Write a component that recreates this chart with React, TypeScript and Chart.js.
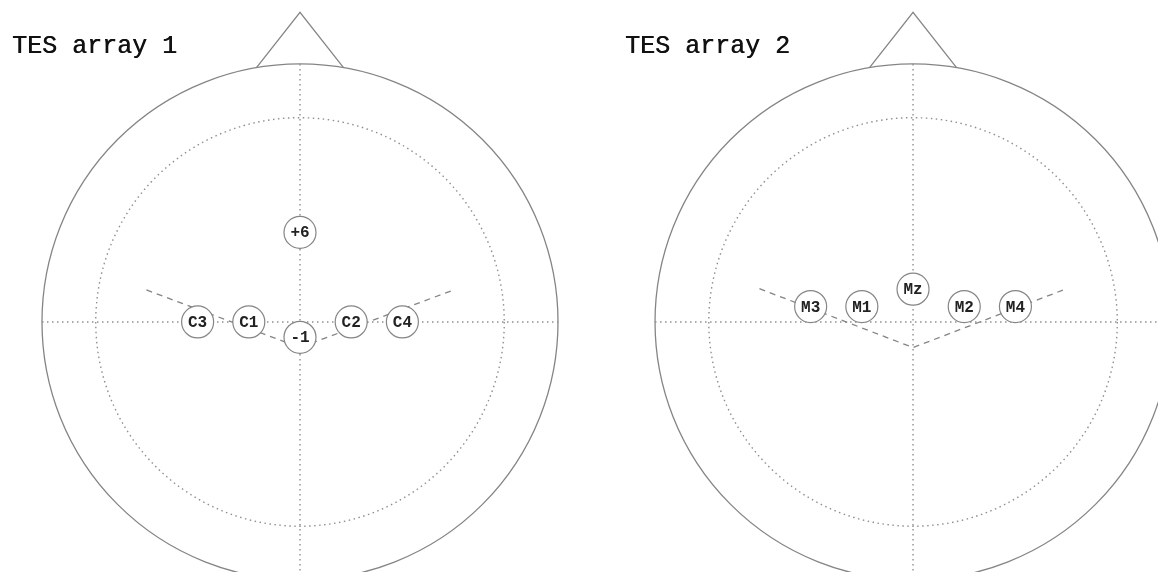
import React, { useEffect, useRef } from "react";
import { Chart, registerables } from "chart.js";

Chart.register(...registerables);

// ---- data (head units: head radius ≈ 10) ----
const headTitles = ["TES array 1", "TES array 2"];
const headCentresX = [0, 23.95];
const headRadius = 10.08;
const innerRadius = 7.98;

const noseX = [-1.7, 0, 1.7];
const noseY = [9.94, 12.1, 9.94];

const leftLabels = ["+6", "C3", "C1", "-1", "C2", "C4"];
const leftX = [0, -4, -2, 0, 2, 4];
const leftY = [3.5, 0, 0, -0.6, 0, 0];
const leftVX = [-6, 0, 6];
const leftVY = [1.25, -1.0, 1.25];

const rightLabels = ["M3", "M1", "Mz", "M2", "M4"];
const rightX = [-4, -2, 0, 2, 4];
const rightY = [0.6, 0.6, 1.28, 0.6, 0.6];
const rightVX = [-6, 0, 6];
const rightVY = [1.3, -1.0, 1.3];

const titleX = -11.25;
const titleY = 10.5;

const X_MIN = -11.72;
const X_MAX = 33.52;
const Y_MIN = -9.77;
const Y_MAX = 12.58;

const LINE = "#858585";
const DOT = "#8f8f8f";
const TEXT = "#222222";

const pts = (xs: number[], ys: number[], dx: number) =>
  xs.map((x, i) => ({ x: x + dx, y: ys[i] }));

export default function App() {
  const ref = useRef<HTMLCanvasElement | null>(null);

  useEffect(() => {
    if (!ref.current) return;

    const headPlugin = {
      id: "heads",
      beforeDatasetsDraw(chart: any) {
        const ctx = chart.ctx;
        const xs = chart.scales.x;
        const ys = chart.scales.y;
        const unit = xs.getPixelForValue(1) - xs.getPixelForValue(0);
        ctx.save();
        headCentresX.forEach((cx) => {
          const px = xs.getPixelForValue(cx);
          const py = ys.getPixelForValue(0);
          // outer head
          ctx.setLineDash([]);
          ctx.strokeStyle = LINE;
          ctx.lineWidth = 1.3;
          ctx.beginPath();
          ctx.arc(px, py, headRadius * unit, 0, Math.PI * 2);
          ctx.stroke();
          // inner dotted circle + cross
          ctx.setLineDash([1.5, 3.5]);
          ctx.strokeStyle = DOT;
          ctx.lineWidth = 1.4;
          ctx.beginPath();
          ctx.arc(px, py, innerRadius * unit, 0, Math.PI * 2);
          ctx.stroke();
          ctx.beginPath();
          ctx.moveTo(xs.getPixelForValue(cx - headRadius), py);
          ctx.lineTo(xs.getPixelForValue(cx + headRadius), py);
          ctx.moveTo(px, ys.getPixelForValue(headRadius));
          ctx.lineTo(px, ys.getPixelForValue(-headRadius));
          ctx.stroke();
        });
        ctx.restore();
      },
      afterDatasetsDraw(chart: any) {
        const ctx = chart.ctx;
        const xs = chart.scales.x;
        const ys = chart.scales.y;
        ctx.save();
        ctx.fillStyle = TEXT;
        ctx.textAlign = "center";
        ctx.textBaseline = "middle";
        ctx.font = "bold 16px 'Liberation Mono', monospace";
        chart.data.datasets.forEach((ds: any, i: number) => {
          if (!ds.electrodeLabels) return;
          const meta = chart.getDatasetMeta(i);
          meta.data.forEach((el: any, j: number) => {
            ctx.fillText(ds.electrodeLabels[j], el.x, el.y + 1);
          });
        });
        ctx.textAlign = "left";
        ctx.textBaseline = "alphabetic";
        ctx.fillStyle = "#111111";
        ctx.font = "25px 'Liberation Mono', monospace";
        headCentresX.forEach((cx, k) => {
          const tx = xs.getPixelForValue(cx + titleX);
          const ty = ys.getPixelForValue(titleY);
          ctx.fillText(headTitles[k], tx, ty);
          ctx.fillText(headTitles[k], tx + 0.5, ty);
        });
        ctx.restore();
      },
    };

    const lineDs = (data: any[], dashed: boolean) => ({
      data,
      showLine: true,
      borderColor: LINE,
      borderWidth: 1.3,
      borderDash: dashed ? [6, 5] : [],
      pointRadius: 0,
      fill: false,
      tension: 0,
      order: 2,
    });

    const electrodeDs = (data: any[], labels: string[]) => ({
      data,
      electrodeLabels: labels,
      showLine: false,
      pointRadius: 16,
      pointHoverRadius: 16,
      pointBackgroundColor: "#ffffff",
      pointBorderColor: LINE,
      pointBorderWidth: 1.2,
      order: 0,
    });

    const chart = new Chart(ref.current, {
      type: "scatter",
      data: {
        datasets: [
          lineDs(pts(noseX, noseY, headCentresX[0]), false),
          lineDs(pts(noseX, noseY, headCentresX[1]), false),
          lineDs(pts(leftVX, leftVY, headCentresX[0]), true),
          lineDs(pts(rightVX, rightVY, headCentresX[1]), true),
          electrodeDs(pts(leftX, leftY, headCentresX[0]), leftLabels),
          electrodeDs(pts(rightX, rightY, headCentresX[1]), rightLabels),
        ] as any,
      },
      options: {
        responsive: false,
        maintainAspectRatio: false,
        animation: false,
        layout: { padding: 0, autoPadding: false },
        plugins: {
          legend: { display: false },
          tooltip: { enabled: false },
        },
        events: [],
        scales: {
          x: { type: "linear", display: false, min: X_MIN, max: X_MAX },
          y: { type: "linear", display: false, min: Y_MIN, max: Y_MAX },
        },
      },
      plugins: [headPlugin],
    });

    return () => chart.destroy();
  }, []);

  return (
    <div
      style={{
        position: "absolute",
        left: 0,
        top: 0,
        width: 1158,
        height: 572,
        overflow: "hidden",
        background: "#ffffff",
      }}
    >
      <canvas ref={ref} width={1158} height={572} />
    </div>
  );
}
